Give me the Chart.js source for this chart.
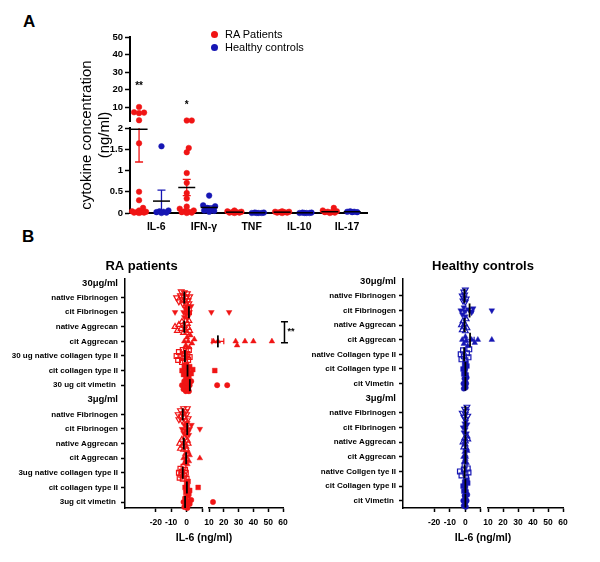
<!DOCTYPE html>
<html><head><meta charset="utf-8">
<script src="https://cdn.jsdelivr.net/npm/chart.js@4/dist/chart.umd.min.js"></script>
<style>
body{margin:0;width:600px;height:562px;position:relative;background:#fff;overflow:hidden;font-family:'Liberation Sans',Arial,sans-serif;color:#000}
canvas{position:absolute;display:block}
.pl{position:absolute;font-weight:bold;font-size:17px;line-height:17px}
#legA{position:absolute;left:211px;top:28px;font-size:11px;line-height:13px}
#legA div{display:flex;align-items:center;height:13px}
#legA span.d{display:inline-block;width:7px;height:7px;border-radius:50%;margin-right:7px}
</style></head><body>
<div class="pl" style="left:23px;top:13px">A</div>
<div class="pl" style="left:22px;top:228px">B</div>
<canvas id="cA" width="400" height="245" style="left:0;top:0;width:400px;height:245px"></canvas>
<canvas id="cB1" width="386" height="317" style="left:0;top:245px;width:386px;height:317px"></canvas>
<canvas id="cB2" width="300" height="317" style="left:300px;top:245px;width:300px;height:317px"></canvas>
<div id="legA"></div>
<script>
// ---------------- DATA: panel A ----------------
const cytokines = ['IL-6', 'IFN-γ', 'TNF', 'IL-10', 'IL-17'];
const seriesA = ['RA Patients', 'Healthy controls'];
const raIL6  = [10, 7.0, 6.8, 6.5, 2.4, 1.64, 0.5, 0.3, 0.12, 0.06, 0.04, 0.03, 0.02, 0.02, 0.01, 0.01, 0];
const hcIL6  = [1.57, 0.06, 0.04, 0.03, 0.02, 0.01, 0];
const raIFNg = [2.3, 2.3, 1.53, 1.43, 0.94, 0.71, 0.47, 0.34, 0.15, 0.1, 0.06, 0.04, 0.03, 0.02, 0.01, 0];
const hcIFNg = [0.41, 0.18, 0.16, 0.12, 0.09, 0.06, 0.05, 0.03];
const raTNF  = [0.06, 0.04, 0.03, 0.02, 0.02, 0.01, 0.01, 0];
const hcTNF  = [0.01, 0.01, 0, 0, 0, 0];
const raIL10 = [0.04, 0.03, 0.03, 0.02, 0.02, 0.01, 0.01, 0];
const hcIL10 = [0.01, 0.01, 0, 0, 0, 0];
const raIL17 = [0.12, 0.06, 0.04, 0.03, 0.02, 0.02, 0.01, 0];
const hcIL17 = [0.04, 0.03, 0.03, 0.02, 0.02];
const raMeanA = [1.97, 0.6, 0.02, 0.02, 0.03];
const raSemA  = [0.77, 0.19, 0.01, 0.01, 0.01];
const hcMeanA = [0.28, 0.13, 0.005, 0.005, 0.03];
const hcSemA  = [0.26, 0.04, 0.003, 0.003, 0.005];
const yLowTicks = [0, 0.5, 1, 1.5, 2];
const yUpTicks = [10, 20, 30, 40, 50];
const starsA = [{cat: 0, text: '**', value: 22}, {cat: 1, text: '*', value: 11}];

// ---------------- DATA: panel B ----------------
const raLabels = ['30μg/ml', 'native Fibrinogen', 'cit Fibrinogen', 'native Aggrecan', 'cit Aggrecan',
  '30 ug native collagen type II', 'cit collagen type II', '30 ug cit vimetin ', '3μg/ml',
  'native Fibrinogen', 'cit Fibrinogen', 'native Aggrecan', 'cit Aggrecan',
  '3ug native collagen type II', 'cit collagen type II', '3ug cit vimetin '];
const hcLabels = ['30μg/ml', 'native Fibrinogen', 'cit Fibrinogen', 'native Aggrecan', 'cit Aggrecan',
  'native Collagen type II', 'cit Collagen type II', 'cit Vimetin ', '3μg/ml',
  'native Fibrinogen', 'cit Fibrinogen', 'native Aggrecan', 'cit Aggrecan',
  'native Collgen tye II', 'cit Collagen type II', 'cit Vimetin '];
const xLeftTicks = [-20, -10, 0, 10];
const xRightTicks = [10, 20, 30, 40, 50, 60];

const ra30_natFib  = [-6.5, -5, -4, -3.5, -3, -2.5, -2, -1.5, -1, -0.5, 0, 0.5, 1, 1.5, 2];
const ra30_citFib  = [-7.5, -2, -1.5, -1, -0.5, 0, 0, 0.5, 1, 1.5, 2, 3, 11.6, 23.6];
const ra30_natAgg  = [-7.5, -6, -5, -3.5, -3, -2, -1.5, -1, -0.5, 0, 0.5, 1, 1.5, 2];
const ra30_citAgg  = [-1.5, -0.5, 0.3, 1, 1.8, 2.5, 3.5, 5, 13, 16, 28, 29, 34.3, 40, 52.5];
const ra30_natColl = [-6.5, -5.5, -5, -4, -3, -2.5, -2, -1.5, -1, -0.5, 0, 0.5, 1, 1.5, 2];
const ra30_citColl = [-3, -2, -1.5, -1, -0.5, 0, 0, 0.5, 1, 1.5, 2, 3, 4, 13.9];
const ra30_citVim  = [-3, -2, -1.5, -1, -0.5, 0, 0.5, 1, 1.5, 2, 3, 15.5, 22.3];
const ra3_natFib   = [-5.5, -5, -4, -3.5, -3, -2.5, -2, -1.5, -1, -0.5, 0, 0.5, 1];
const ra3_citFib   = [-3, -2, -1.5, -1, -0.5, 0, 0.5, 1, 1.5, 2, 3.2, 8.6];
const ra3_natAgg   = [-4.5, -4, -3, -2.5, -2, -1.5, -1, -0.5, 0, 0.5, 1];
const ra3_citAgg   = [-2, -1.5, -1, -0.5, 0, 0.5, 1, 1.5, 2, 8.6];
const ra3_natColl  = [-5, -4.5, -4, -3.5, -3, -2.5, -2, -1.5, -1, -0.5, 0];
const ra3_citColl  = [-1, -0.5, 0, 0, 0.5, 1, 1.5, 2, 7.5];
const ra3_citVim   = [-2, -1.5, -1, -0.5, 0, 0.5, 1, 2, 3, 12.7];
const raMean30 = [-1.5, 1.5, -1.5, 16, -1.1, 0.6, 2.1];
const raSem30  = [0.6, 1.6, 0.7, 4, 0.6, 0.9, 1.2];
const raMean3  = [-2.5, 0.4, -1.8, -0.3, -2.5, 0.2, -1.0];
const raSem3   = [0.5, 0.8, 0.5, 0.7, 0.5, 0.6, 0.9];

const hc30_natFib  = [-2, -1.5, -1, -1, -0.5, 0, 0, 0.5];
const hc30_citFib  = [-3, -2, -1, -0.5, 0, 2, 4, 5, 12.5];
const hc30_natAgg  = [-2.5, -2, -1.5, -1, -0.5, 0, 0.5, 1];
const hc30_citAgg  = [-2, -1, 0, 0.5, 1.5, 4, 6, 8, 12.5];
const hc30_natColl = [-3, -2.5, -1.5, -1, 0, 1, 2, 2.5];
const hc30_citColl = [-1.5, -1, -0.5, -0.3, 0, 0.3, 0.5, 1];
const hc30_citVim  = [-1.2, -1, -0.6, -0.3, 0, 0.2, 0.5, 0.8];
const hc3_natFib   = [-2, -1, -0.5, 0, 0, 0.5, 1, 1.5];
const hc3_citFib   = [-1.5, -1, -0.5, 0, 0, 0.4, 0.8, 1.2];
const hc3_natAgg   = [-1.5, -1, -0.5, -0.2, 0, 0.5, 1, 1.5];
const hc3_citAgg   = [-1.2, -0.8, -0.5, 0, 0, 0.3, 0.8, 1.2];
const hc3_natColl  = [-3.5, -2.5, -1, -0.5, 0, 0.5, 1.5, 2];
const hc3_citColl  = [-1.5, -1, -0.5, 0, 0, 0.5, 1, 1.5];
const hc3_citVim   = [-1.3, -1, -0.5, 0, 0, 0.3, 0.8, 1.2];
const hcMean30 = [-0.6, 2.7, -0.5, 3.0, -0.8, 0, 0];
const hcSem30  = [0.3, 2.2, 0.4, 2.6, 0.7, 0.3, 0.3];
const hcMean3  = [0, 0, 0, 0, -0.5, 0, 0];
const hcSem3   = [0.3, 0.3, 0.3, 0.3, 0.6, 0.3, 0.3];

// ---------------- STYLE ----------------
const RED = '#f01414', BLUE = '#1616b4';
Chart.defaults.font.family = "'Liberation Sans', Arial, sans-serif";
Chart.defaults.color = '#000';
Chart.defaults.animation = false;
Chart.defaults.events = [];
Chart.defaults.plugins.tooltip.enabled = false;
Chart.defaults.plugins.legend.display = false;

// beeswarm: offsets (px) across the value axis so markers do not pile up
function swarm(vals, toPix, d, maxOff, step) {
  const idx = vals.map((v, i) => i).sort((a, b) => vals[a] - vals[b]);
  const cands = [0];
  for (let k = step; k <= maxOff + 1e-9; k += step) cands.push(k, -k);
  const placed = [], off = vals.map(() => 0);
  for (const i of idx) {
    const p = toPix(vals[i]);
    let best = 0, bestScore = -1;
    for (const c of cands) {
      let mind = Infinity;
      for (const q of placed) { const dd = Math.hypot(p - q.p, c - q.o); if (dd < mind) mind = dd; }
      if (mind >= d) { best = c; break; }
      if (mind > bestScore) { bestScore = mind; best = c; }
    }
    off[i] = best; placed.push({p, o: best});
  }
  return off;
}

// ---------------- PANEL A ----------------
const LOW_MAX = 2;
const raA = [raIL6, raIFNg, raTNF, raIL10, raIL17];
const hcA = [hcIL6, hcIFNg, hcTNF, hcIL10, hcIL17];
const groupsA = [];
cytokines.forEach((c, i) => {
  groupsA.push({x: i - 0.36, vals: raA[i], color: RED, mean: raMeanA[i], sem: raSemA[i], label: seriesA[0]});
  groupsA.push({x: i + 0.11, vals: hcA[i], color: BLUE, mean: hcMeanA[i], sem: hcSemA[i], label: seriesA[1]});
});
function buildA(jit) {
  const ds = [];
  groupsA.forEach((g, gi) => {
    const offs = jit ? jit[gi] : g.vals.map(() => 0);
    const low = [], up = [];
    g.vals.forEach((v, k) => { (v > LOW_MAX ? up : low).push({x: g.x + offs[k], y: v}); });
    const st = {label: g.label, pointStyle: 'circle', pointRadius: 2.8, pointBackgroundColor: g.color,
      pointBorderColor: g.color, pointBorderWidth: 0.5, showLine: false, clip: false};
    ds.push(Object.assign({data: low, yAxisID: 'yLow'}, st));
    ds.push(Object.assign({data: up, yAxisID: 'yUp'}, st));
  });
  return ds;
}
const meanPluginA = {
  id: 'meanA',
  afterDatasetsDraw(chart) {
    const {ctx, scales: {x, yLow, yUp}} = chart;
    const yp = v => v > LOW_MAX ? yUp.getPixelForValue(v) : yLow.getPixelForValue(v);
    ctx.save();
    groupsA.forEach(g => {
      const cx = x.getPixelForValue(g.x);
      const lo = Math.max(g.mean - g.sem, 0), hi = Math.min(g.mean + g.sem, LOW_MAX);
      ctx.strokeStyle = g.color; ctx.lineWidth = 1.3;
      ctx.beginPath();
      ctx.moveTo(cx, yp(lo)); ctx.lineTo(cx, yp(hi));
      if (g.mean - g.sem > 0.05) { ctx.moveTo(cx - 4, yp(lo)); ctx.lineTo(cx + 4, yp(lo)); }
      if (g.mean + g.sem < LOW_MAX && g.sem > 0.03) { ctx.moveTo(cx - 4, yp(hi)); ctx.lineTo(cx + 4, yp(hi)); }
      ctx.stroke();
      ctx.strokeStyle = '#000'; ctx.lineWidth = 1.5;
      ctx.beginPath(); ctx.moveTo(cx - 8.5, yp(g.mean)); ctx.lineTo(cx + 8.5, yp(g.mean)); ctx.stroke();
    });
    ctx.fillStyle = '#000'; ctx.font = "bold 10px 'Liberation Sans', Arial, sans-serif";
    ctx.textAlign = 'center'; ctx.textBaseline = 'middle';
    starsA.forEach(s => ctx.fillText(s.text, x.getPixelForValue(s.cat - 0.36), yUp.getPixelForValue(s.value)));
    ctx.restore();
  }
};
const tickFontA = {size: 9.5, weight: 'bold'};
const chartA = new Chart(document.getElementById('cA'), {
  type: 'scatter',
  data: {datasets: buildA(null)},
  options: {
    responsive: false, devicePixelRatio: 1,
    layout: {padding: {left: 0, right: 33, top: 37, bottom: 0}},
    scales: {
      x: {type: 'linear', position: 'bottom', min: -0.55, max: 4.42,
        afterBuildTicks: s => { s.ticks = cytokines.map((c, i) => ({value: i})); },
        ticks: {callback: v => cytokines[v] ?? '', font: {size: 10.5, weight: 'bold'}, padding: 8, autoSkip: false, maxRotation: 0},
        grid: {display: false, drawTicks: false}, border: {color: '#000', width: 2},
        afterFit: s => { s.height = 32; }},
      tTop: {type: 'linear', axis: 'y', position: 'left', stack: 't', stackWeight: 20, weight: 11,
        ticks: {display: false}, grid: {display: false}, border: {display: false}, afterFit: s => { s.width = 90; }},
      tMain: {type: 'linear', axis: 'y', position: 'left', stack: 't', stackWeight: 156, weight: 10,
        ticks: {display: false}, grid: {display: false}, border: {display: false},
        title: {display: true, text: ['cytokine concentration', '(ng/ml)'], font: {size: 15}, color: '#000', padding: {top: 78, bottom: 0}},
        afterFit: s => { s.width = 90; }},
      yUp: {type: 'linear', axis: 'y', position: 'left', stack: 'y', stackWeight: 84, weight: 3, min: 2, max: 50,
        afterBuildTicks: s => { s.ticks = yUpTicks.map(v => ({value: v})); },
        ticks: {font: tickFontA, padding: 2, autoSkip: false, callback: v => String(v)},
        grid: {drawOnChartArea: false, tickLength: 5, tickColor: '#000', tickWidth: 1.5},
        border: {color: '#000', width: 2}, afterFit: s => { s.width = 40; }},
      yGap: {type: 'linear', axis: 'y', position: 'left', stack: 'y', stackWeight: 7, weight: 2, display: false},
      yLow: {type: 'linear', axis: 'y', position: 'left', stack: 'y', stackWeight: 85, weight: 1, min: 0, max: LOW_MAX,
        afterBuildTicks: s => { s.ticks = yLowTicks.map(v => ({value: v})); },
        ticks: {font: tickFontA, padding: 2, autoSkip: false, callback: v => String(v)},
        grid: {drawOnChartArea: false, tickLength: 5, tickColor: '#000', tickWidth: 1.5},
        border: {color: '#000', width: 2}, afterFit: s => { s.width = 40; }}
    }
  },
  plugins: [meanPluginA]
});
(function () {
  const {x, yLow, yUp} = chartA.scales;
  const yp = v => v > LOW_MAX ? yUp.getPixelForValue(v) : yLow.getPixelForValue(v);
  const ppu = x.getPixelForValue(1) - x.getPixelForValue(0);
  const jit = groupsA.map(g => swarm(g.vals, yp, 4.6, 7, 1).map(o => o / ppu));
  chartA.data.datasets = buildA(jit);
  chartA.update('none');
})();
// HTML legend for panel A
document.getElementById('legA').innerHTML = seriesA.map((s, i) =>
  `<div><span class="d" style="background:${i ? BLUE : RED}"></span>${s}</div>`).join('');

// ---------------- PANEL B ----------------
const X_BREAK = 10;
const STY = [
  {shape: 'triangle', rot: 180, r: 3.3, open: true},
  {shape: 'triangle', rot: 180, r: 3.3, open: false},
  {shape: 'triangle', rot: 0, r: 3.3, open: true},
  {shape: 'triangle', rot: 0, r: 3.3, open: false},
  {shape: 'rect', rot: 0, r: 3.4, open: true},
  {shape: 'rect', rot: 0, r: 3.4, open: false},
  {shape: 'circle', rot: 0, r: 2.7, open: false}
];
function makePanelB(id, cfg) {
  const rows = [];
  for (let k = 0; k < 7; k++) {
    rows.push({row: 1 + k, vals: cfg.rows30[k], st: STY[k], mean: cfg.mean30[k], sem: cfg.sem30[k]});
    rows.push({row: 9 + k, vals: cfg.rows3[k], st: STY[k], mean: cfg.mean3[k], sem: cfg.sem3[k]});
  }
  const headers = [0, 8];
  function build(jit) {
    const ds = [];
    rows.forEach((r, ri) => {
      const offs = jit ? jit[ri] : r.vals.map(() => 0);
      const L = [], R = [];
      r.vals.forEach((v, k) => { (v > X_BREAK ? R : L).push({x: v, y: r.row + offs[k]}); });
      [[L, 'xL'], [R, 'xR']].forEach(([d, ax]) => {
        ds.push({data: d, xAxisID: ax, yAxisID: 'y', pointStyle: r.st.shape, pointRotation: r.st.rot,
          pointRadius: r.st.r, pointBackgroundColor: r.st.open ? 'rgba(255,255,255,0)' : cfg.color,
          pointBorderColor: cfg.color, pointBorderWidth: r.st.open ? 1.2 : 0.4, showLine: false, clip: false});
      });
    });
    return ds;
  }
  const xp = (sc, v) => v > X_BREAK ? sc.xR.getPixelForValue(v) : sc.xL.getPixelForValue(v);
  const meanPlugin = {
    id: 'meanB',
    afterDatasetsDraw(chart) {
      const {ctx, scales} = chart;
      ctx.save();
      rows.forEach(r => {
        const cy = scales.y.getPixelForValue(r.row);
        const a = xp(scales, r.mean - r.sem), b = xp(scales, r.mean + r.sem), cx = xp(scales, r.mean);
        ctx.strokeStyle = cfg.color; ctx.lineWidth = 1.2;
        ctx.beginPath(); ctx.moveTo(a, cy); ctx.lineTo(b, cy);
        if (b - a > 4) { ctx.moveTo(a, cy - 3); ctx.lineTo(a, cy + 3); ctx.moveTo(b, cy - 3); ctx.lineTo(b, cy + 3); }
        ctx.stroke();
        ctx.strokeStyle = '#000'; ctx.lineWidth = 1.8;
        ctx.beginPath(); ctx.moveTo(cx, cy - cfg.meanHalf); ctx.lineTo(cx, cy + cfg.meanHalf); ctx.stroke();
      });
      if (cfg.bracket) {
        const bx = scales.xR.getPixelForValue(cfg.bracket.x);
        const y1 = scales.y.getPixelForValue(cfg.bracket.from), y2 = scales.y.getPixelForValue(cfg.bracket.to);
        ctx.strokeStyle = '#000'; ctx.lineWidth = 1.5;
        ctx.beginPath(); ctx.moveTo(bx, y1); ctx.lineTo(bx, y2);
        ctx.moveTo(bx - 3.5, y1); ctx.lineTo(bx + 3.5, y1); ctx.moveTo(bx - 3.5, y2); ctx.lineTo(bx + 3.5, y2);
        ctx.stroke();
        ctx.fillStyle = '#000'; ctx.font = "bold 9px 'Liberation Sans', Arial, sans-serif";
        ctx.textAlign = 'left'; ctx.textBaseline = 'middle';
        ctx.fillText(cfg.bracket.text, bx + 3, (y1 + y2) / 2 - 1);
      }
      ctx.restore();
    }
  };
  const xCommon = {
    type: 'linear', position: 'bottom', stack: 'x',
    ticks: {font: {size: 8.5, weight: 'bold'}, padding: 6, autoSkip: false, maxRotation: 0},
    grid: {drawOnChartArea: false, tickLength: 4, tickWidth: 1.5, tickColor: '#000'},
    border: {color: '#000', width: 1.5}, afterFit: s => { s.height = 24; }
  };
  const chart = new Chart(document.getElementById(id), {
    type: 'scatter',
    data: {datasets: build(null)},
    options: {
      responsive: false, devicePixelRatio: 1,
      layout: {padding: {left: 0, right: cfg.padRight, top: 0, bottom: 18}},
      plugins: {title: {display: true, text: cfg.title, fullSize: cfg.titleFull, color: '#000',
        font: {size: 13, weight: 'bold'}, padding: {top: 14, bottom: 4.4}}},
      scales: {
        y: {type: 'linear', position: 'left', reverse: true, min: cfg.yMin, max: cfg.yMax,
          afterBuildTicks: s => { s.ticks = cfg.labels.map((l, i) => ({value: i})); },
          ticks: {callback: v => cfg.labels[v] ?? '', autoSkip: false, padding: 3,
            font: c => headers.includes(c.index) ? {size: 9.5, weight: 'bold'} : {size: 8, weight: 'bold'}},
          grid: {drawOnChartArea: false, tickLength: 4, tickWidth: 1.5,
            tickColor: c => headers.includes(c.index) ? 'rgba(0,0,0,0)' : '#000'},
          border: {color: '#000', width: 1.5}, afterFit: s => { s.width = cfg.yWidth; }},
        xL: Object.assign({}, xCommon, {stackWeight: 77, weight: 0, min: -40, max: X_BREAK,
          afterBuildTicks: s => { s.ticks = xLeftTicks.map(v => ({value: v})); },
          ticks: Object.assign({}, xCommon.ticks, {callback: v => v === X_BREAK ? '' : String(v)})}),
        xG: {type: 'linear', axis: 'x', position: 'bottom', stack: 'x', stackWeight: 7, weight: 1, display: false},
        xR: Object.assign({}, xCommon, {stackWeight: 74, weight: 2, min: X_BREAK, max: 60,
          afterBuildTicks: s => { s.ticks = xRightTicks.map(v => ({value: v})); },
          ticks: Object.assign({}, xCommon.ticks, {callback: v => String(v)})}),
        xT: {type: 'linear', axis: 'x', position: 'bottom', weight: 10,
          ticks: {display: false}, grid: {display: false}, border: {display: false},
          title: {display: true, text: 'IL-6 (ng/ml)', color: '#000', font: {size: 10.5, weight: 'bold'}, padding: {top: 0, bottom: 0}},
          afterFit: s => { s.height = 12; }}
      }
    },
    plugins: [meanPlugin]
  });
  const sc = chart.scales;
  const rowPx = Math.abs(sc.y.getPixelForValue(1) - sc.y.getPixelForValue(0));
  const jit = rows.map(r => swarm(r.vals, v => xp(sc, v), 4.2, 6, 1).map(o => o / rowPx));
  chart.data.datasets = build(jit);
  chart.update('none');
  return chart;
}

makePanelB('cB1', {
  title: 'RA patients', titleFull: true, labels: raLabels, color: RED,
  rows30: [ra30_natFib, ra30_citFib, ra30_natAgg, ra30_citAgg, ra30_natColl, ra30_citColl, ra30_citVim],
  rows3: [ra3_natFib, ra3_citFib, ra3_natAgg, ra3_citAgg, ra3_natColl, ra3_citColl, ra3_citVim],
  mean30: raMean30, sem30: raSem30, mean3: raMean3, sem3: raSem3,
  yMin: -0.27, yMax: 15.41, yWidth: 125, padRight: 103, meanHalf: 6,
  bracket: {x: 61, from: 2.65, to: 4.1, text: '**'}
});
makePanelB('cB2', {
  title: 'Healthy controls', titleFull: false, labels: hcLabels, color: BLUE,
  rows30: [hc30_natFib, hc30_citFib, hc30_natAgg, hc30_citAgg, hc30_natColl, hc30_citColl, hc30_citVim],
  rows3: [hc3_natFib, hc3_citFib, hc3_natAgg, hc3_citAgg, hc3_natColl, hc3_citColl, hc3_citVim],
  mean30: hcMean30, sem30: hcSem30, mean3: hcMean3, sem3: hcSem3,
  yMin: -0.15, yMax: 15.5, yWidth: 103, padRight: 37, meanHalf: 7
});
</script>
</body></html>
